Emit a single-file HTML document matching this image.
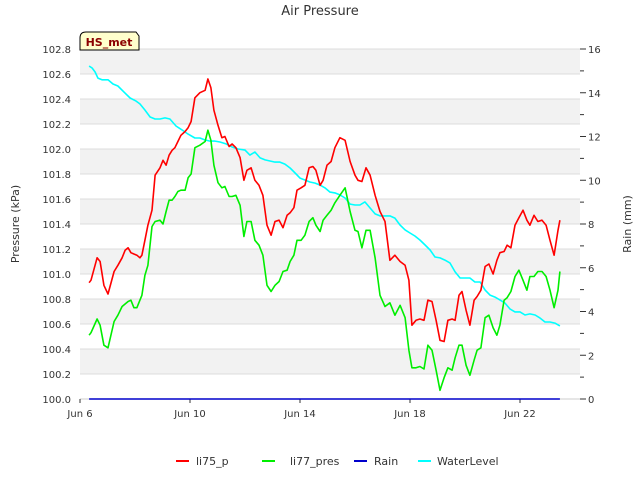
<!DOCTYPE html>
<html><head><meta charset="utf-8"><style>
body{margin:0;background:#fff;font-family:"Liberation Sans","DejaVu Sans",sans-serif}
svg text{font-family:"DejaVu Sans","Liberation Sans",sans-serif}
</style></head><body>
<svg id="chart" width="640" height="480" viewBox="0 0 640 480" xmlns="http://www.w3.org/2000/svg">
<text x="320" y="15" text-anchor="middle" font-size="13" fill="#333">Air Pressure</text>
<g id="bands"></g>
<g id="grid"></g>
<g id="laxis"></g>
<g id="raxis"></g>
<g id="xaxis"></g>
<g id="series"></g>
<text transform="translate(19,224) rotate(-90)" text-anchor="middle" font-size="11" fill="#333">Pressure (kPa)</text>
<text transform="translate(631,224) rotate(-90)" text-anchor="middle" font-size="11" fill="#333">Rain (mm)</text>
<g>
<path d="M80,50 L80,38 Q80,32 86,32 L136,32 L139,36 L139,50 Z" fill="#ffffcc" stroke="#000" stroke-width="1"/>
<text x="109" y="46" text-anchor="middle" font-size="11" font-weight="bold" fill="#8b0000">HS_met</text>
</g>
<g>
<g><line x1="176" y1="461" x2="189" y2="461" stroke="#ff0000" stroke-width="2"/><text x="196" y="465" font-size="11" fill="#333">li75_p</text></g>
<g><line x1="262" y1="461" x2="275" y2="461" stroke="#00ee00" stroke-width="2"/><text x="290" y="465" font-size="11" fill="#333">li77_pres</text></g>
<g><line x1="354" y1="461" x2="367" y2="461" stroke="#0000cc" stroke-width="2"/><text x="374" y="465" font-size="11" fill="#333">Rain</text></g>
<g><line x1="418" y1="461" x2="431" y2="461" stroke="#00ffff" stroke-width="2"/><text x="437" y="465" font-size="11" fill="#333">WaterLevel</text></g>
</g>
</svg>
<script>
const pTicks=[100.0,100.2,100.4,100.6,100.8,101.0,101.2,101.4,101.6,101.8,102.0,102.2,102.4,102.6,102.8];
const rTicks=[0,2,4,6,8,10,12,14,16];
const xTickDays=[6,10,14,18,22];
const xTickLabels=["Jun 6","Jun 10","Jun 14","Jun 18","Jun 22"];
const pDays=[6.33,6.40,6.62,6.73,6.87,7.02,7.24,7.38,7.53,7.64,
7.75,7.85,7.96,8.07,8.18,8.25,8.36,8.47,8.62,8.73,
8.91,9.02,9.13,9.24,9.35,9.45,9.56,9.67,9.82,9.93,
10.04,10.18,10.36,10.55,10.65,10.76,10.87,11.02,11.16,11.27,
11.42,11.53,11.67,11.82,11.96,12.07,12.22,12.36,12.51,12.65,
12.80,12.95,13.09,13.24,13.38,13.53,13.64,13.78,13.89,14.04,
14.18,14.33,14.47,14.58,14.73,14.84,14.98,15.13,15.27,15.45,
15.64,15.82,16.00,16.11,16.25,16.40,16.55,16.73,16.91,17.09,
17.27,17.45,17.64,17.82,17.96,18.07,18.22,18.36,18.51,18.65,
18.80,18.95,19.09,19.24,19.38,19.53,19.64,19.78,19.89,20.04,
20.18,20.33,20.44,20.58,20.73,20.87,21.02,21.16,21.27,21.42,
21.53,21.67,21.82,21.96,22.11,22.25,22.36,22.51,22.65,22.80,
22.95,23.09,23.24,23.38,23.45];
const li75=[100.93,100.95,101.13,101.10,100.91,100.84,101.02,101.07,101.13,101.19,
101.21,101.17,101.16,101.15,101.13,101.15,101.27,101.39,101.51,101.79,
101.85,101.91,101.87,101.95,101.99,102.01,102.06,102.11,102.14,102.17,
102.22,102.41,102.45,102.47,102.56,102.49,102.31,102.19,102.09,102.10,
102.02,102.04,102.01,101.93,101.75,101.83,101.85,101.75,101.71,101.63,
101.39,101.31,101.42,101.43,101.37,101.47,101.49,101.53,101.67,101.69,
101.71,101.85,101.86,101.83,101.71,101.75,101.87,101.90,102.01,102.09,
102.07,101.90,101.79,101.75,101.74,101.85,101.79,101.63,101.50,101.42,
101.11,101.15,101.10,101.07,100.95,100.59,100.63,100.64,100.63,100.79,
100.78,100.63,100.47,100.46,100.63,100.64,100.63,100.83,100.86,100.71,
100.59,100.79,100.82,100.87,101.06,101.08,101.00,101.11,101.17,101.18,
101.23,101.21,101.39,101.45,101.51,101.43,101.39,101.47,101.42,101.43,
101.39,101.27,101.15,101.35,101.43];
const li77=[100.51,100.53,100.64,100.59,100.43,100.41,100.62,100.67,100.74,100.76,
100.78,100.79,100.73,100.73,100.79,100.83,100.99,101.07,101.38,101.42,
101.43,101.40,101.50,101.59,101.59,101.62,101.66,101.67,101.67,101.77,
101.80,102.01,102.03,102.06,102.15,102.07,101.87,101.73,101.69,101.70,
101.62,101.62,101.63,101.55,101.30,101.42,101.42,101.27,101.23,101.15,
100.91,100.86,100.91,100.94,101.02,101.03,101.10,101.15,101.27,101.27,
101.31,101.42,101.45,101.39,101.34,101.43,101.47,101.51,101.57,101.63,
101.69,101.50,101.35,101.34,101.21,101.35,101.35,101.13,100.83,100.74,
100.77,100.67,100.75,100.65,100.39,100.25,100.25,100.26,100.24,100.43,
100.39,100.23,100.07,100.17,100.25,100.23,100.33,100.43,100.43,100.27,
100.19,100.31,100.39,100.41,100.65,100.67,100.57,100.51,100.59,100.79,
100.81,100.86,100.98,101.03,100.95,100.87,100.98,100.98,101.02,101.02,
100.98,100.87,100.73,100.87,101.02];
const wDays=[6.33,6.44,6.55,6.65,6.80,7.02,7.20,7.38,7.60,7.82,
8.04,8.18,8.36,8.55,8.73,8.91,9.09,9.27,9.49,9.71,
9.93,10.18,10.36,10.55,10.73,10.91,11.09,11.31,11.53,11.75,
12.00,12.18,12.36,12.55,12.73,12.91,13.09,13.27,13.45,13.64,
13.82,14.00,14.18,14.36,14.55,14.73,14.91,15.09,15.27,15.45,
15.64,15.82,16.00,16.18,16.36,16.55,16.73,16.91,17.09,17.27,
17.45,17.64,17.82,18.00,18.18,18.36,18.55,18.73,18.91,19.09,
19.27,19.45,19.64,19.82,20.00,20.18,20.36,20.55,20.73,20.91,
21.09,21.27,21.45,21.64,21.82,22.00,22.18,22.36,22.55,22.73,
22.91,23.09,23.27,23.45];
const water=[15.22,15.13,14.95,14.67,14.59,14.59,14.40,14.31,14.03,13.76,
13.62,13.49,13.21,12.89,12.80,12.80,12.85,12.80,12.48,12.30,
12.11,11.93,11.93,11.84,11.79,11.79,11.75,11.66,11.52,11.43,
11.38,11.15,11.29,11.02,10.93,10.88,10.83,10.83,10.74,10.56,
10.33,10.10,10.01,9.92,9.87,9.78,9.65,9.46,9.42,9.33,
9.19,8.91,8.87,8.87,9.01,8.73,8.46,8.37,8.37,8.37,
8.27,7.95,7.73,7.59,7.45,7.27,7.04,6.81,6.49,6.45,
6.35,6.22,5.81,5.53,5.53,5.53,5.35,5.35,4.98,4.75,
4.66,4.53,4.39,4.11,3.98,3.98,3.84,3.89,3.84,3.70,
3.52,3.52,3.47,3.34];
const rainDays=[6.33,23.45];
const rain=[0,0];

const L=80,R=580,T=49,B=399;
const xS=d=>L+(d-6)*27.5;
const yP=v=>B-(v-100)/2.8*(B-T);
const yR=v=>B-v/16*(B-T);
const NS="http://www.w3.org/2000/svg";
function mk(tag,attrs,parent){const e=document.createElementNS(NS,tag);for(const k in attrs)e.setAttribute(k,attrs[k]);parent.appendChild(e);return e;}
const bands=document.getElementById('bands'),grid=document.getElementById('grid');
const bg=mk('rect',{x:L,y:T,width:R-L,height:B-T,fill:'#ffffff'},bands);


for(let i=1;i<pTicks.length-1;i+=2){
  const r=mk('rect',{x:L,y:yP(pTicks[i+1]),width:R-L,height:yP(pTicks[i])-yP(pTicks[i+1]),fill:'#f2f2f2'},bands);
  
  
}
const la=document.getElementById('laxis');
pTicks.forEach(v=>{
  const y=yP(v);
  const g=mk('line',{x1:L,x2:R,y1:y,y2:y,stroke:'#dcdcdc','stroke-width':1},grid);
  
  
  const t=mk('text',{x:71,y:y+4,'text-anchor':'end','font-size':10,fill:'#333'},la);
  t.textContent=v.toFixed(1);
  
  
});
const ra=document.getElementById('raxis');
for(let v=0;v<=16;v++){
  const y=yR(v);
  const tk=mk('line',{x1:R,x2:R+(v%2?4:6),y1:y,y2:y,stroke:'#333','stroke-width':1},ra);
  
  
}
rTicks.forEach(v=>{
  const t=mk('text',{x:588,y:yR(v)+4,'font-size':10,fill:'#333'},ra);
  t.textContent=String(v);
  
  
});
const xa=document.getElementById('xaxis');
const bl=mk('line',{x1:L,x2:R,y1:B,y2:B,stroke:'#cccccc','stroke-width':1},xa);


xTickDays.forEach((d,i)=>{
  const x=xS(d);
  const tk=mk('line',{x1:x,x2:x,y1:B,y2:B+4,stroke:'#333'},xa);
  
  
  const t=mk('text',{x:x,y:417,'text-anchor':'middle','font-size':10,fill:'#333'},xa);
  t.textContent=xTickLabels[i];
  
  
});
const sg=document.getElementById('series');
function line(days,vals,ys,color,name){
  const n=Math.min(days.length,vals.length);
  let d='';
  for(let i=0;i<n;i++)d+=(i?'L':'M')+xS(days[i]).toFixed(1)+','+ys(vals[i]).toFixed(1);
  const p=mk('path',{d:d,fill:'none',stroke:color,'stroke-width':1.6,'stroke-linejoin':'round'},sg);
  
  
}
line(wDays,water,yR,'#00ffff','waterlevel-line');
line(pDays,li77,yP,'#00ee00','li77-pres-line');
line(pDays,li75,yP,'#ff0000','li75-p-line');
line(rainDays,rain,yR,'#0000cc','rain-line');
</script>
</body></html>
